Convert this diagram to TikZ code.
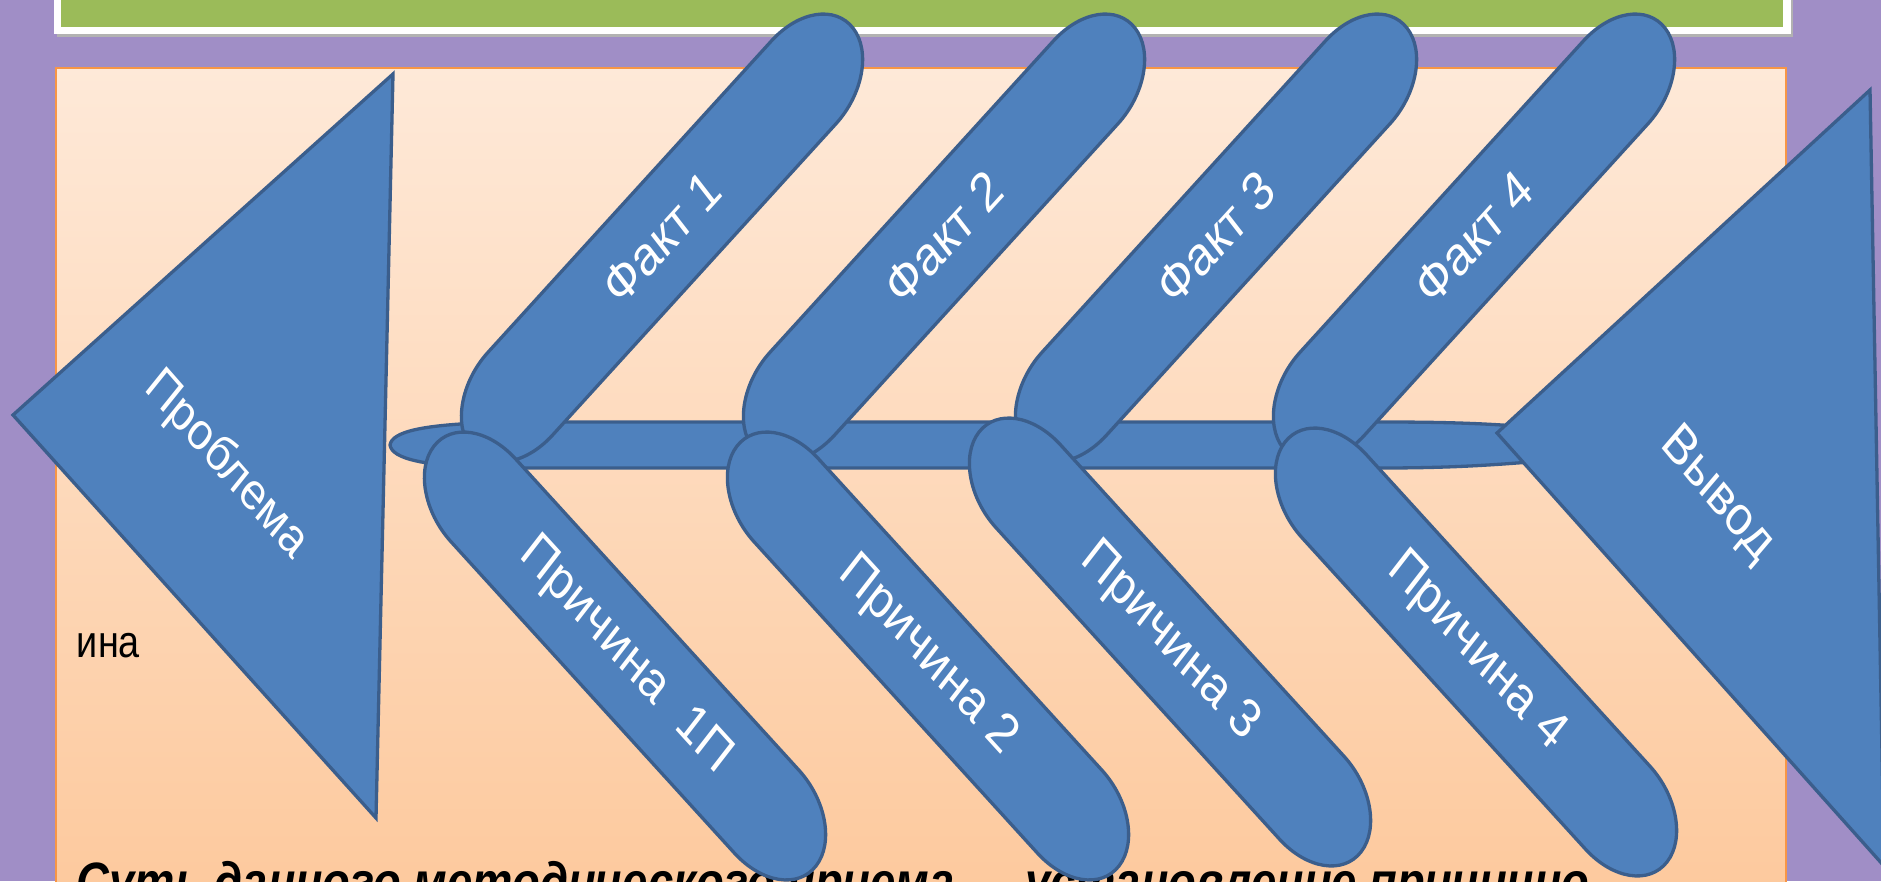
\documentclass[tikz,border=0pt]{standalone}
\usepackage{fontspec}
\setmainfont{Liberation Sans}
\usepackage{tikz}
\definecolor{lilac}{HTML}{A08EC6}
\definecolor{leaf}{HTML}{9BBB59}
\definecolor{peachtop}{HTML}{FEE9D8}
\definecolor{peachbot}{HTML}{FDC99D}
\definecolor{rim}{HTML}{F79646}
\definecolor{bonefill}{HTML}{4F81BD}
\definecolor{boneline}{HTML}{3B5E8C}

\begin{document}
\begin{tikzpicture}[x=1pt,y=-1pt,
  fin/.style={draw=boneline,fill=bonefill,line width=3.3pt,line join=miter},
  fintext/.style={text=white,xscale=0.84,font=\fontsize{55}{66}\selectfont}]
\useasboundingbox (0,0) rectangle (1881,881);
\clip (0,0) rectangle (1881,881);
\fill[lilac] (0,0) rectangle (1881,881);
\fill[black!30] (57,-5) rectangle (1793,37);
\fill[white] (54,-5) rectangle (1791,34);
\fill[leaf] (61,-5) rectangle (1783,27);
\shade[top color=peachtop,bottom color=peachbot] (56,68) rectangle (1786,900);
\draw[rim,line width=2.5pt] (56,68) rectangle (1786,900);

\node[anchor=base west,xscale=0.84,font=\bfseries\itshape\fontsize{54}{64}\selectfont] (gist) at (74,900)
  {Суть данного методического приема — установление причинно-};
\node[anchor=base west,xscale=0.84,font=\fontsize{45}{54}\selectfont] (stub) at (74,657) {ина};

\draw[fin] (13,415) coordinate (p1) -- (393,74) coordinate (p2) -- (376,818) coordinate (p3) -- cycle;
\node[fintext,rotate=-43.8,font=\fontsize{52}{62}\selectfont] (problem) at (226,465) {Проблема};

\draw[fin] (390,445) coordinate (tail) .. controls (392,432) and (420,423) .. (520,422)
  -- (1380,422) .. controls (1440,422) and (1480,423) .. (1530,427)
  -- (1530,462) .. controls (1480,466) and (1440,468) .. (1380,468)
  -- (520,468) .. controls (420,468) and (392,458) .. (tail) -- cycle;

\foreach \cx/\n in {662/1,944/2,1216/3,1474/4}{
  \draw[fin,shift={(\cx,238)},xscale=0.84,rotate=42.7] (-229.5,-56.5) -- (229.5,-56.5)
    arc[start angle=-90,end angle=90,x radius=80,y radius=56.5] -- (-229.5,56.5)
    arc[start angle=90,end angle=270,x radius=80,y radius=56.5] -- cycle;
  \node[fintext,rotate=42.7] (fact\n) at (\cx,238) {Факт \n};
}
\foreach \cx/\cy/\t [count=\n] in {625/656/{Причина\ \ 1П},928/656/{Причина 2},1170/642/{Причина 3},1476/652/{Причина 4}}{
  \draw[fin,shift={(\cx,\cy)},xscale=0.84,rotate=-42.7] (-229.5,-56.5) -- (229.5,-56.5)
    arc[start angle=-90,end angle=90,x radius=80,y radius=56.5] -- (-229.5,56.5)
    arc[start angle=90,end angle=270,x radius=80,y radius=56.5] -- cycle;
  \node[fintext,rotate=-42.7] (cause\n) at (\cx,\cy) {\t};
}

\draw[fin] (1497,433) coordinate (v1) -- (1870,90) coordinate (v2) -- (1884,866) coordinate (v3) -- cycle;
\node[fintext,rotate=-45.4] (verdict) at (1717,495) {Вывод};
\end{tikzpicture}
\end{document}
